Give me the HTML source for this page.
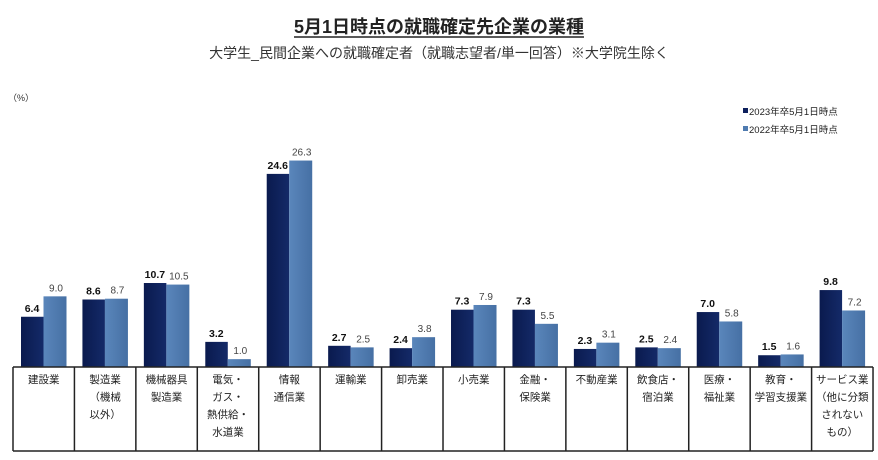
<!DOCTYPE html>
<html><head><meta charset="utf-8"><style>
html,body{margin:0;padding:0;background:#fff;width:878px;height:460px;overflow:hidden}
svg{display:block;font-family:"Liberation Sans","Noto Sans CJK JP",sans-serif}
</style></head><body>
<svg width="878" height="460" viewBox="0 0 878 460" xmlns="http://www.w3.org/2000/svg">
<defs>
<linearGradient id="dg" x1="0" x2="1"><stop offset="0" stop-color="#0a1a4e"/><stop offset="1" stop-color="#142a68"/></linearGradient>
<linearGradient id="lg" x1="0" x2="1"><stop offset="0" stop-color="#5a86bb"/><stop offset="1" stop-color="#4670a4"/></linearGradient>
</defs>
<text x="439" y="33" text-anchor="middle" font-size="18" font-weight="bold" fill="#222">5月1日時点の就職確定先企業の業種</text>
<line x1="294" y1="37" x2="584" y2="37" stroke="#222" stroke-width="1.5"/>
<text x="439" y="58" text-anchor="middle" font-size="14" fill="#333">大学生_民間企業への就職確定者（就職志望者/単一回答）※大学院生除く</text>
<text x="8" y="101" font-size="9" fill="#333">（%）</text>
<rect x="743" y="108" width="5" height="5" fill="#0d1f5c"/>
<text x="749" y="115" font-size="9.5" fill="#222">2023年卒5月1日時点</text>
<rect x="743" y="126" width="5" height="5" fill="#4f7bb0"/>
<text x="749" y="133" font-size="9.5" fill="#222">2022年卒5月1日時点</text>
<g id="bars"></g>
<g id="tbl" fill="none" stroke="#222" stroke-width="1.5"></g>
<g id="labs" font-size="10.5" fill="#222" text-anchor="middle"></g>
</svg>
<script>
var d=[[6.4,9.0,["建設業"]],[8.6,8.7,["製造業","（機械","以外）"]],[10.7,10.5,["機械器具","製造業"]],[3.2,1.0,["電気・","ガス・","熱供給・","水道業"]],[24.6,26.3,["情報","通信業"]],[2.7,2.5,["運輸業"]],[2.4,3.8,["卸売業"]],[7.3,7.9,["小売業"]],[7.3,5.5,["金融・","保険業"]],[2.3,3.1,["不動産業"]],[2.5,2.4,["飲食店・","宿泊業"]],[7.0,5.8,["医療・","福祉業"]],[1.5,1.6,["教育・","学習支援業"]],[9.8,7.2,["サービス業","（他に分類","されない","もの）"]]];
var ns="http://www.w3.org/2000/svg",B=367,S=7.85,W=61.43,X=13;
function el(t,a,p,tx){var e=document.createElementNS(ns,t);for(var k in a)e.setAttribute(k,a[k]);if(tx)e.textContent=tx;p.appendChild(e);return e;}
var bars=document.getElementById("bars"),tbl=document.getElementById("tbl"),labs=document.getElementById("labs");
d.forEach(function(r,i){var x0=X+i*W;
var h1=r[0]*S,h2=r[1]*S;
el("rect",{x:x0+8,y:B-h1,width:22.5,height:h1,fill:"url(#dg)"},bars);
el("rect",{x:x0+30.5,y:B-h2,width:23,height:h2,fill:"url(#lg)"},bars);
el("text",{x:x0+19,y:B-h1-5,"font-size":10.5,"font-weight":"bold",fill:"#111","text-anchor":"middle"},bars,r[0].toFixed(1));
el("text",{x:x0+43,y:B-h2-5,"font-size":10,fill:"#444","text-anchor":"middle"},bars,r[1].toFixed(1));
r[2].forEach(function(t,j){el("text",{x:x0+W/2,y:383+j*17.5},labs,t);});
el("line",{x1:x0,y1:B,x2:x0,y2:451},tbl);
});
el("line",{x1:X+14*W,y1:B,x2:X+14*W,y2:451},tbl);
el("line",{x1:X,y1:B,x2:X+14*W,y2:B},tbl);
el("line",{x1:X,y1:451,x2:X+14*W,y2:451},tbl);
</script>
</body></html>
